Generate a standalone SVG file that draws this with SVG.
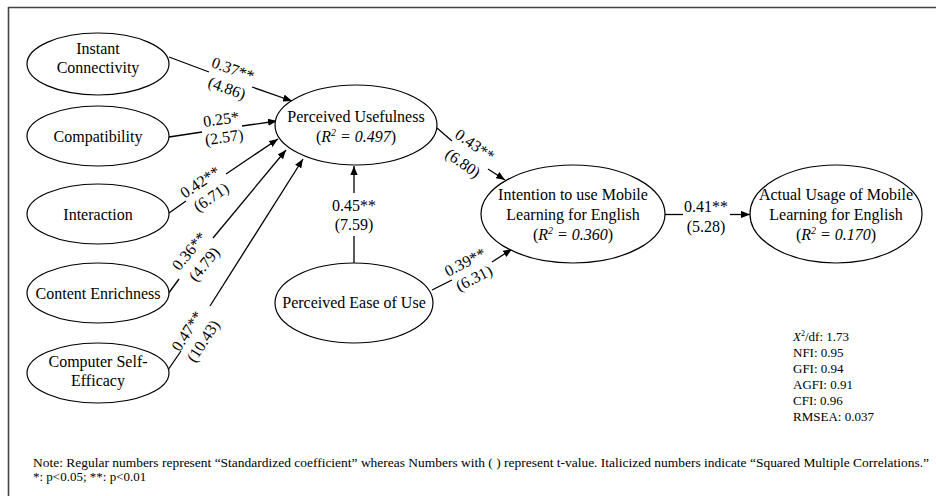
<svg xmlns="http://www.w3.org/2000/svg" width="936" height="496" viewBox="0 0 936 496">
<defs>
<marker id="ah" viewBox="0 0 10 8" refX="10" refY="4" markerWidth="9" markerHeight="7.2" markerUnits="userSpaceOnUse" orient="auto">
<path d="M0,0 L10,4 L0,8 z" fill="#000"/>
</marker>
<style>
text{font-family:"Liberation Serif","Times New Roman",serif;fill:#000}
.n{font-size:16px;text-anchor:middle}
.l{font-size:16px;text-anchor:middle}
.s{font-size:13px}
.i{font-style:italic}
ellipse{fill:#fff;stroke:#000;stroke-width:1.2}
.c line{stroke:#000;stroke-width:1.3}
.arr{marker-end:url(#ah)}
</style>
</defs>
<rect width="936" height="496" fill="#fff"/>
<g id="frame" stroke="#444" stroke-width="1.6" fill="none">
<line x1="8" y1="7.5" x2="936" y2="7.5"/>
<line x1="8.5" y1="7" x2="8.5" y2="496"/>
</g>

<g id="connectors" class="c">
<line x1="169" y1="57" x2="209" y2="72"/>
<line x1="252" y1="87" x2="292" y2="101" class="arr"/>
<line x1="169" y1="137" x2="202" y2="132"/>
<line x1="242" y1="126" x2="277" y2="121" class="arr"/>
<line x1="169" y1="213" x2="186" y2="201"/>
<line x1="226" y1="174" x2="278" y2="139" class="arr"/>
<line x1="168" y1="294" x2="179" y2="279"/>
<line x1="213" y1="238" x2="286" y2="150" class="arr"/>
<line x1="168" y1="370" x2="181" y2="351"/>
<line x1="210" y1="306" x2="303" y2="159" class="arr"/>
<line x1="354" y1="263" x2="354" y2="236"/>
<line x1="354" y1="193" x2="354" y2="166" class="arr"/>
<line x1="437" y1="128" x2="452" y2="141"/>
<line x1="488" y1="169" x2="505" y2="180" class="arr"/>
<line x1="432" y1="290" x2="452" y2="280"/>
<line x1="492" y1="262" x2="512" y2="249" class="arr"/>
<line x1="665" y1="214.5" x2="683" y2="214.5"/>
<line x1="730" y1="214.5" x2="750" y2="214.5" class="arr"/>
</g>

<g id="labels">
<text class="l" transform="translate(233,69) rotate(20)" y="5.5">0.37**</text>
<text class="l" transform="translate(227,88) rotate(20)" y="5.5">(4.86)</text>
<text class="l" transform="translate(221,119) rotate(-8)" y="5.5">0.25*</text>
<text class="l" transform="translate(224,137) rotate(-8)" y="5.5">(2.57)</text>
<text class="l" transform="translate(200,182) rotate(-34)" y="5.5">0.42**</text>
<text class="l" transform="translate(211,197) rotate(-34)" y="5.5">(6.71)</text>
<text class="l" transform="translate(189,251) rotate(-50.5)" y="5.5">0.36**</text>
<text class="l" transform="translate(204,264) rotate(-50.5)" y="5.5">(4.79)</text>
<text class="l" transform="translate(187,331) rotate(-57)" y="5.5">0.47**</text>
<text class="l" transform="translate(203,341) rotate(-57)" y="5.5">(10.43)</text>
<text class="l" x="354" y="211">0.45**</text>
<text class="l" x="354" y="230">(7.59)</text>
<text class="l" transform="translate(475,145) rotate(35)" y="5.5">0.43**</text>
<text class="l" transform="translate(463,163) rotate(35)" y="5.5">(6.80)</text>
<text class="l" transform="translate(465,262) rotate(-27)" y="5.5">0.39**</text>
<text class="l" transform="translate(474,278) rotate(-27)" y="5.5">(6.31)</text>
<text class="l" x="706" y="212">0.41**</text>
<text class="l" x="706" y="232">(5.28)</text>
</g>

<g id="instant-connectivity">
<ellipse cx="98" cy="64" rx="71" ry="31"/>
<text class="n" x="98" y="54">Instant</text>
<text class="n" x="98" y="73">Connectivity</text>
</g>
<g id="compatibility">
<ellipse cx="98" cy="136" rx="71" ry="30"/>
<text class="n" x="98" y="141.5">Compatibility</text>
</g>
<g id="interaction">
<ellipse cx="98" cy="214" rx="71" ry="30"/>
<text class="n" x="98" y="219.5">Interaction</text>
</g>
<g id="content-enrichness">
<ellipse cx="98" cy="293" rx="71" ry="30"/>
<text class="n" x="98" y="298.5">Content Enrichness</text>
</g>
<g id="computer-self-efficacy">
<ellipse cx="98" cy="373" rx="71" ry="30"/>
<text class="n" x="98" y="367">Computer Self-</text>
<text class="n" x="98" y="386">Efficacy</text>
</g>
<g id="perceived-usefulness">
<ellipse cx="356" cy="125" rx="81" ry="40"/>
<text class="n" x="356" y="122">Perceived Usefulness</text>
<text class="n" x="356" y="142">(<tspan class="i">R</tspan><tspan class="i" font-size="10" dy="-6">2</tspan><tspan class="i" dy="6"> = 0.497</tspan>)</text>
</g>
<g id="perceived-ease-of-use">
<ellipse cx="354" cy="303" rx="79" ry="40"/>
<text class="n" x="354" y="308">Perceived Ease of Use</text>
</g>
<g id="intention">
<ellipse cx="573" cy="214" rx="92" ry="49"/>
<text class="n" x="573" y="200">Intention to use Mobile</text>
<text class="n" x="573" y="220">Learning for English</text>
<text class="n" x="573" y="240">(<tspan class="i">R</tspan><tspan class="i" font-size="10" dy="-6">2</tspan><tspan class="i" dy="6"> = 0.360</tspan>)</text>
</g>
<g id="actual-usage">
<ellipse cx="836" cy="214" rx="86" ry="49"/>
<text class="n" x="836" y="200">Actual Usage of Mobile</text>
<text class="n" x="836" y="220">Learning for English</text>
<text class="n" x="836" y="240">(<tspan class="i">R</tspan><tspan class="i" font-size="10" dy="-6">2</tspan><tspan class="i" dy="6"> = 0.170</tspan>)</text>
</g>

<g id="fit-stats">
<text class="s" x="793" y="341"><tspan class="i">X</tspan><tspan font-size="8" dy="-5">2</tspan><tspan dy="5">/df: 1.73</tspan></text>
<text class="s" x="793" y="357">NFI: 0.95</text>
<text class="s" x="793" y="373">GFI: 0.94</text>
<text class="s" x="793" y="389">AGFI: 0.91</text>
<text class="s" x="793" y="405">CFI: 0.96</text>
<text class="s" x="793" y="421">RMSEA: 0.037</text>
</g>

<g id="note">
<text class="s" x="33" y="467" textLength="896" lengthAdjust="spacingAndGlyphs">Note: Regular numbers represent “Standardized coefficient” whereas Numbers with ( ) represent t-value. Italicized numbers indicate “Squared Multiple Correlations.”</text>
<text class="s" x="33" y="481">*: p&lt;0.05; **: p&lt;0.01</text>
</g>
</svg>
